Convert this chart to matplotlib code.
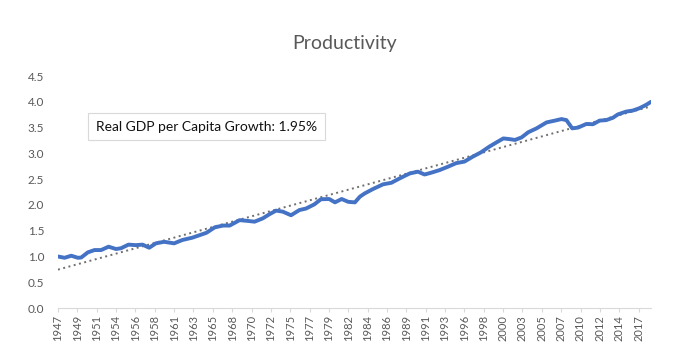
import numpy as np
import matplotlib.pyplot as plt

plt.rcParams['font.family'] = ['Lato', 'DejaVu Sans']

# values (fractional year, index level)
Years = [1947.0, 1947.8, 1948.6, 1949.4, 1949.8, 1950.6, 1951.4, 1952.2, 1953.1, 1954.0,
         1954.6, 1955.5, 1956.4, 1957.2, 1958.0, 1958.8, 1959.8, 1961.0, 1962.0, 1963.2,
         1964.1, 1964.9, 1965.9, 1966.9, 1967.7, 1968.9, 1969.9, 1970.7, 1971.7, 1972.5,
         1973.3, 1974.1, 1975.1, 1976.1, 1976.9, 1977.9, 1978.7, 1979.7, 1980.4, 1981.2,
         1982.0, 1982.8, 1983.4, 1984.0, 1985.0, 1986.2, 1987.2, 1988.2, 1989.4, 1990.4,
         1991.2, 1992.0, 1993.0, 1994.0, 1995.0, 1996.0, 1997.0, 1998.0, 1999.0, 2000.0,
         2000.7, 2001.5, 2002.1, 2002.9, 2003.7, 2004.7, 2005.9, 2006.9, 2007.7, 2008.3,
         2009.0, 2009.7, 2010.7, 2011.5, 2012.3, 2013.1, 2013.9, 2014.5, 2015.5, 2016.3,
         2017.1, 2017.9, 2018.5]
Productivity = [1.00, 0.975, 1.015, 0.975, 0.98, 1.08, 1.125, 1.125, 1.19, 1.145,
                1.16, 1.23, 1.22, 1.23, 1.17, 1.255, 1.285, 1.255, 1.32, 1.365,
                1.415, 1.46, 1.565, 1.60, 1.60, 1.705, 1.69, 1.675, 1.74, 1.82,
                1.89, 1.87, 1.80, 1.90, 1.93, 2.01, 2.11, 2.115, 2.05, 2.115,
                2.06, 2.05, 2.16, 2.225, 2.31, 2.40, 2.43, 2.515, 2.61, 2.645,
                2.59, 2.625, 2.675, 2.74, 2.81, 2.84, 2.935, 3.02, 3.13, 3.225,
                3.29, 3.275, 3.26, 3.31, 3.41, 3.485, 3.60, 3.635, 3.665, 3.645,
                3.485, 3.50, 3.57, 3.565, 3.635, 3.645, 3.69, 3.755, 3.81, 3.83,
                3.875, 3.94, 4.00]
YTicks = [0.0, 0.5, 1.0, 1.5, 2.0, 2.5, 3.0, 3.5, 4.0, 4.5]
Note = 'Real GDP per Capita Growth: 1.95%'

x = np.array(Years)
y = np.array(Productivity)

# linear trendline like Excel's
Slope, Intercept = np.polyfit(x, y, 1)
TrendX = np.array([x[0], x[-1]])
TrendY = Slope * TrendX + Intercept

fig = plt.figure(figsize=(6.86, 3.62), dpi=100)
ax = fig.add_axes([0.0845, 0.149, 0.8645, 0.641])

ax.plot(TrendX, TrendY, color='#6f6f6f', lw=1.4, ls=(0, (1, 1.8)), zorder=2)
ax.plot(x, y, color='#4472C4', lw=2.8, solid_joinstyle='round',
        solid_capstyle='round', zorder=3)

ax.set_xlim(1947, 2018.5)
ax.set_ylim(0, 4.5)

# category labels every 28 months
TickPos = 1947 + np.arange(31) * 28 / 12
ax.set_xticks(TickPos)
ax.set_xticklabels([str(int(np.floor(t + 1e-6))) for t in TickPos], rotation=90,
                   fontsize=8, color='#595959')
ax.set_yticks(YTicks)
ax.set_yticklabels(['%.1f' % v for v in YTicks], fontsize=8.5, color='#595959')

ax.tick_params(axis='x', length=3, color='#d9d9d9', pad=2)
ax.tick_params(axis='y', length=0, pad=10)
for s in ['top', 'right', 'left']:
    ax.spines[s].set_visible(False)
ax.spines['bottom'].set_color('#d9d9d9')

ax.text(1951.6, 3.52, Note, fontsize=10, color='#111111', va='center', ha='left',
        bbox=dict(boxstyle='square,pad=0.55', fc='white', ec='#d9d9d9', lw=0.8))

fig.text(0.503, 0.88, 'Productivity', ha='center', va='center', fontsize=14,
         color='#595959')

fig.savefig('out.png', dpi=100)
